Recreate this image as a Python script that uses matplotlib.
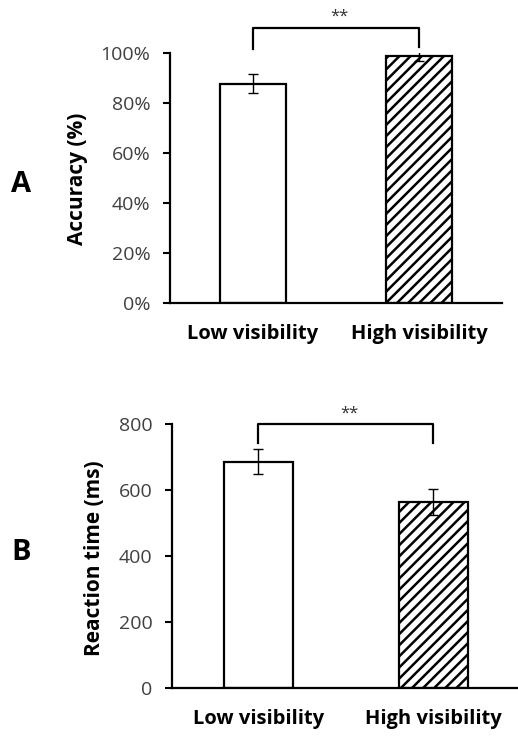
import numpy as np
import matplotlib
matplotlib.use('Agg')
import matplotlib.pyplot as plt
from matplotlib.ticker import PercentFormatter

plt.rcParams['font.family'] = ['Open Sans', 'DejaVu Sans']
plt.rcParams['hatch.linewidth'] = 1.8

# data
conditions = ['Low visibility', 'High visibility']
accuracy = [87.8, 98.8]       # %
accuracy_err = [3.7, 2.0]
rt = [687, 565]               # ms
rt_err = [38, 40]

fig = plt.figure(figsize=(5.18, 7.36), dpi=100)
axA = fig.add_axes([170/518, 1-303/736, 332/518, 250/736])
axB = fig.add_axes([172/518, 1-688.3/736, 346/518, 264/736])

tick_color = '#404040'


def style_axis(ax):
    for s in ['top', 'right']:
        ax.spines[s].set_visible(False)
    for s in ['left', 'bottom']:
        ax.spines[s].set_linewidth(1.6)
    ax.tick_params(axis='y', length=5, width=1.5, labelsize=14, labelcolor=tick_color, pad=9)
    ax.tick_params(axis='x', length=0, pad=15)
    for lab in ax.get_xticklabels():
        lab.set_fontweight('bold')
        lab.set_fontsize(14.5)
        lab.set_color('black')


def draw_bars(ax, vals, errs, width):
    x = np.arange(len(vals))
    ax.bar(x[0], vals[0], width, color='white', edgecolor='black', linewidth=1.6, zorder=2)
    ax.bar(x[1], vals[1], width, color='white', edgecolor='black', linewidth=1.6, hatch='///', zorder=2)
    ax.errorbar(x, vals, yerr=errs, fmt='none', ecolor='black', elinewidth=1, capsize=3.5, capthick=1, zorder=3)
    ax.set_xticks(x)
    ax.set_xticklabels(conditions)


def bracket(ax, y, drop_l, drop_r, star_y):
    ax.plot([0, 0, 1, 1], [drop_l, y, y, drop_r], color='black', linewidth=1.6, clip_on=False)
    ax.text(0.52, star_y, '**', ha='center', va='center', fontsize=12, color='#333333')


# panel A
draw_bars(axA, accuracy, accuracy_err, 0.4)
axA.set_xlim(-0.5, 1.5)
axA.set_ylim(0, 100)
axA.set_yticks(np.arange(0, 101, 20))
axA.yaxis.set_major_formatter(PercentFormatter(decimals=0))
style_axis(axA)
bracket(axA, 110, 101.6, 102.4, 114.5)

# panel B
draw_bars(axB, rt, rt_err, 0.39)
axB.set_xlim(-0.494, 1.483)
axB.set_ylim(0, 800)
axB.set_yticks(np.arange(0, 801, 200))
style_axis(axB)
bracket(axB, 802, 742, 742, 833)

fig.text(78/518, 1-179/736, 'Accuracy (%)', rotation=90, ha='center', va='center',
         fontsize=15, fontweight='bold')
fig.text(95/518, 1-558/736, 'Reaction time (ms)', rotation=90, ha='center', va='center',
         fontsize=15, fontweight='bold')
fig.text(21/518, 1-185/736, 'A', ha='center', va='center', fontsize=21, fontweight='bold')
fig.text(21/518, 1-553/736, 'B', ha='center', va='center', fontsize=21, fontweight='bold')

fig.savefig('out.png', dpi=100)
